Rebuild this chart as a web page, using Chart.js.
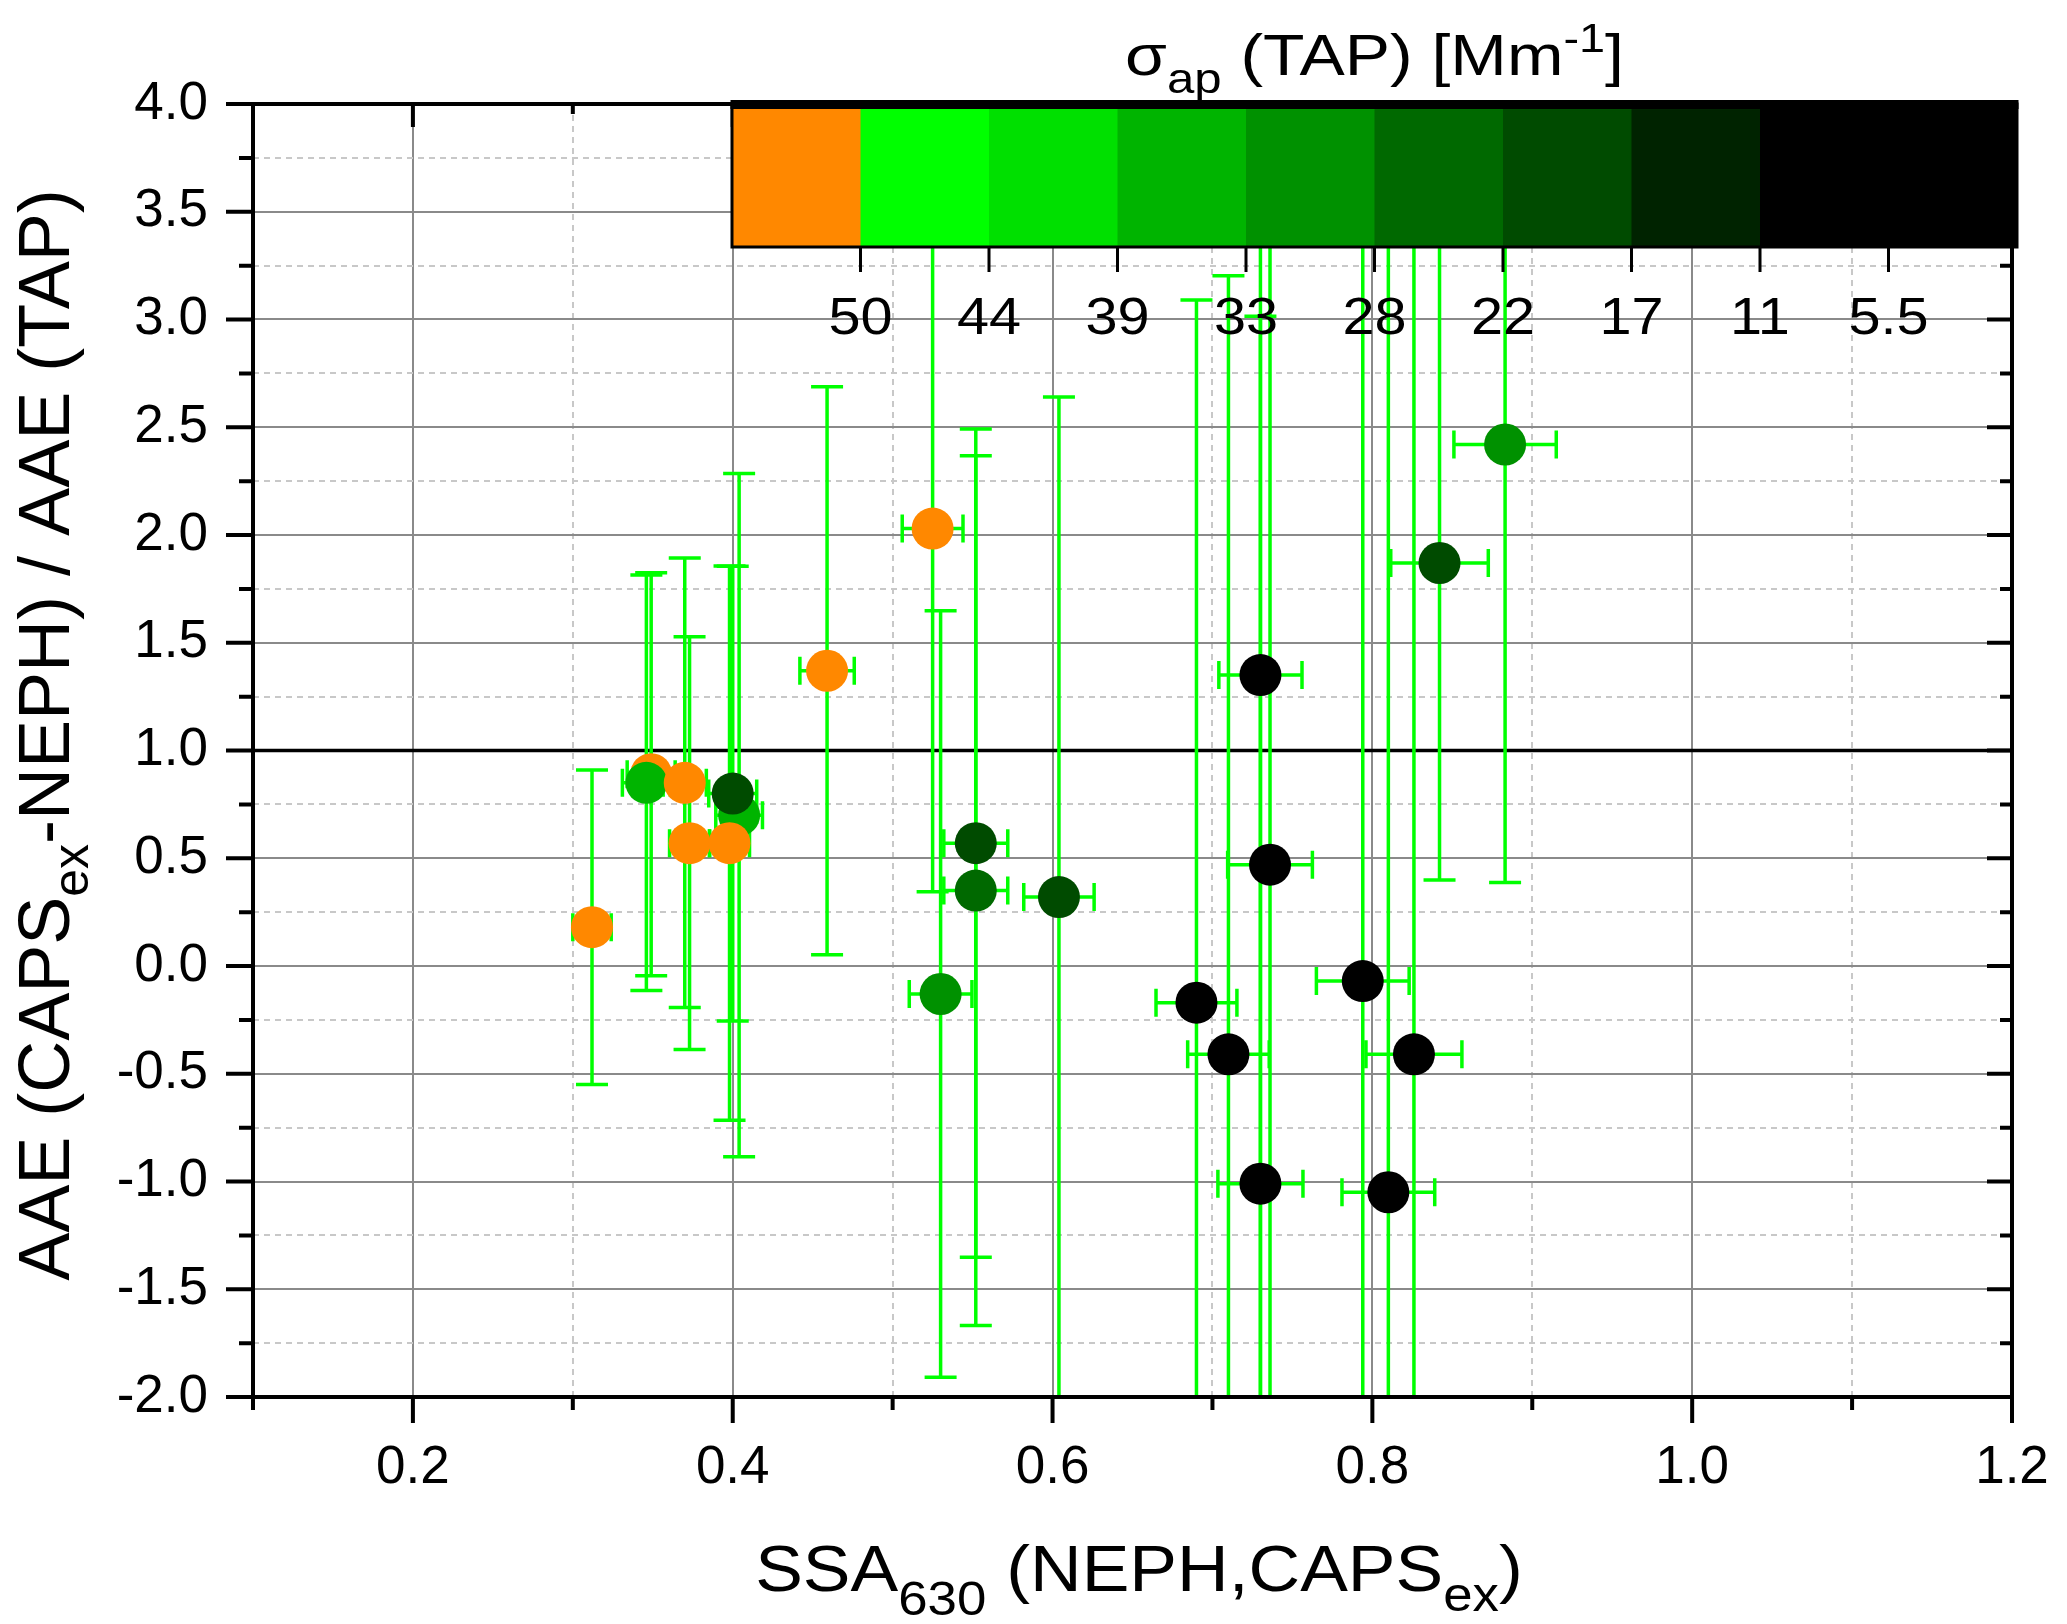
<!DOCTYPE html>
<html>
<head>
<meta charset="utf-8">
<script src="https://cdn.jsdelivr.net/npm/chart.js@4.4.1/dist/chart.umd.min.js"></script>
<style>
  html, body { margin: 0; padding: 0; background: #fff; }
  canvas { display: block; }
</style>
</head>
<body>
<canvas id="chart" width="2067" height="1624" style="width:2067px;height:1624px"></canvas>
<script>
const FONT = "'Liberation Sans', Arial, sans-serif";

// SSA630 (x), AAE ratio (y), their errors and the TAP absorption of each point
const ssa = [0.312, 0.349, 0.346, 0.370, 0.373, 0.404, 0.398, 0.400, 0.459, 0.525, 0.530, 0.552,
  0.552, 0.604, 0.690, 0.710, 0.730, 0.736, 0.730, 0.794, 0.810, 0.826, 0.842, 0.883];
const aae = [0.18, 0.89, 0.85, 0.85, 0.57, 0.70, 0.57, 0.80, 1.37, 2.03, -0.13, 0.35,
  0.57, 0.32, -0.17, -0.41, 1.35, 0.47, -1.01, -0.07, -1.05, -0.41, 1.87, 2.42];
const ssaErr = [0.012, 0.015, 0.015, 0.0135, 0.0125, 0.0146, 0.0125, 0.015, 0.017, 0.019, 0.0196, 0.02,
  0.02, 0.022, 0.0253, 0.0255, 0.026, 0.0265, 0.0266, 0.029, 0.029, 0.030, 0.0305, 0.032];
const aaeErr = [0.73, 0.935, 0.964, 1.043, 0.958, 1.585, 1.286, 1.055, 1.318, 1.686, 1.778, 2.018,
  1.922, 2.32, 3.261, 3.613, 4.0, 4.2, 4.025, 4.6, 5.4, 4.9, 1.471, 2.032];
const sigmaAp = [55, 55, 36, 55, 55, 36, 55, 19, 55, 55, 30, 25,
  19, 19, 8, 8, 8, 8, 8, 8, 8, 8, 19, 30];

// colour scale of the legend bar
const sigmaEdges = [50, 44, 39, 33, 28, 22, 17, 11, 5.5];
const sigmaColors = ["#ff8800", "#00ff00", "#00e000", "#00b400", "#009100", "#006900", "#004b00", "#002300", "#000000", "#000000"];

// reference line AAE ratio = 1
const refX = [0.1, 1.2];
const refY = [1, 1];

const colorFor = (s) => {
  const i = sigmaEdges.findIndex((e) => s > e);
  return sigmaColors[i < 0 ? sigmaColors.length - 1 : i];
};

const points = ssa.map((x, i) => ({ x, y: aae[i] }));
const pointColors = sigmaAp.map(colorFor);
const refLine = refX.map((x, i) => ({ x, y: refY[i] }));

const isMajorX = (v) => Math.round(v * 10) % 2 === 0;
const isMajorY = (v) => Math.round(v * 4) % 2 === 0;

// text with sub/superscripts, sx stretches it sideways
const drawRich = (ctx, parts, x, y, sx = 1) => {
  let total = 0;
  parts.forEach((p) => {
    ctx.font = `${p.size}px ${FONT}`;
    p.w = ctx.measureText(p.text).width;
    total += p.w;
  });
  ctx.save();
  ctx.translate(x, y);
  ctx.scale(sx, 1);
  ctx.fillStyle = "#000";
  ctx.textAlign = "left";
  ctx.textBaseline = "alphabetic";
  let cx = -total / 2;
  parts.forEach((p) => {
    ctx.font = `${p.size}px ${FONT}`;
    ctx.fillText(p.text, cx, p.dy || 0);
    cx += p.w;
  });
  ctx.restore();
};

const errorBars = {
  id: "errorBars",
  beforeDatasetDraw(chart, args) {
    if (args.index !== 0) return;
    const { ctx, chartArea: ca } = chart;
    const { x, y } = chart.scales;
    ctx.save();
    ctx.beginPath();
    ctx.rect(ca.left, ca.top, ca.width, ca.height);
    ctx.clip();
    ctx.strokeStyle = "#00ff00";
    ctx.lineWidth = 3.5;
    ssa.forEach((sx, i) => {
      const px = x.getPixelForValue(sx);
      const py = y.getPixelForValue(aae[i]);
      const top = y.getPixelForValue(aae[i] + aaeErr[i]);
      const bot = y.getPixelForValue(aae[i] - aaeErr[i]);
      const l = x.getPixelForValue(sx - ssaErr[i]);
      const r = x.getPixelForValue(sx + ssaErr[i]);
      ctx.beginPath();
      ctx.moveTo(px, top); ctx.lineTo(px, bot);
      ctx.moveTo(px - 16, top); ctx.lineTo(px + 16, top);
      ctx.moveTo(px - 16, bot); ctx.lineTo(px + 16, bot);
      ctx.moveTo(l, py); ctx.lineTo(r, py);
      ctx.moveTo(l, py - 14); ctx.lineTo(l, py + 14);
      ctx.moveTo(r, py - 14); ctx.lineTo(r, py + 14);
      ctx.stroke();
    });
    ctx.restore();
  },
};

const decorations = {
  id: "decorations",
  afterDraw(chart) {
    const { ctx, chartArea: ca } = chart;
    const { x, y } = chart.scales;
    ctx.save();

    // frame + ticks (outside on left/bottom, inside on top/right)
    ctx.strokeStyle = "#000";
    ctx.lineWidth = 4;
    ctx.strokeRect(ca.left, ca.top, ca.width, ca.height);
    ctx.beginPath();
    y.ticks.forEach((t) => {
      const py = y.getPixelForValue(t.value);
      const m = isMajorY(t.value);
      ctx.moveTo(ca.left, py); ctx.lineTo(ca.left - (m ? 27 : 14), py);
      ctx.moveTo(ca.right, py); ctx.lineTo(ca.right - (m ? 25 : 12), py);
    });
    x.ticks.forEach((t) => {
      const px = x.getPixelForValue(t.value);
      const m = isMajorX(t.value);
      ctx.moveTo(px, ca.bottom); ctx.lineTo(px, ca.bottom + (m ? 26 : 13));
      ctx.moveTo(px, ca.top); ctx.lineTo(px, ca.top + (m ? 23 : 10));
    });
    ctx.stroke();

    // colour bar legend
    const bx0 = ca.left + 479, bx1 = ca.right + 5;
    const by0 = ca.top, by1 = ca.top + 143;
    const w = (bx1 - bx0) / sigmaColors.length;
    sigmaColors.forEach((c, i) => {
      ctx.fillStyle = c;
      ctx.fillRect(bx0 + i * w, by0, w + 0.5, by1 - by0);
    });
    ctx.lineWidth = 3;
    ctx.strokeStyle = "#000";
    ctx.strokeRect(bx0, by0, bx1 - bx0, by1 - by0);
    ctx.fillStyle = "#000";
    ctx.fillRect(bx0 - 1.5, by0 - 4, bx1 - bx0 + 3, 9);
    ctx.beginPath();
    sigmaEdges.forEach((e, i) => {
      const tx = bx0 + (i + 1) * w;
      ctx.moveTo(tx, by1); ctx.lineTo(tx, by1 + 25);
    });
    ctx.stroke();
    sigmaEdges.forEach((e, i) => {
      drawRich(ctx, [{ text: String(e), size: 51 }], bx0 + (i + 1) * w, by1 + 87, 1.13);
    });
    drawRich(ctx, [
      { text: "σ", size: 58 },
      { text: "ap", size: 42, dy: 18 },
      { text: " (TAP) [Mm", size: 58 },
      { text: "-1", size: 40, dy: -23 },
      { text: "]", size: 58 },
    ], (bx0 + bx1) / 2, ca.top - 29, 1.17);

    // axis titles
    drawRich(ctx, [
      { text: "SSA", size: 65 },
      { text: "630", size: 48, dy: 24 },
      { text: " (NEPH,CAPS", size: 65 },
      { text: "ex", size: 48, dy: 20 },
      { text: ")", size: 65 },
    ], ca.left + 886, ca.bottom + 194, 1.1);

    ctx.translate(ca.left - 184, ca.top + 631);
    ctx.rotate(-Math.PI / 2);
    drawRich(ctx, [
      { text: "AAE (CAPS", size: 72 },
      { text: "ex", size: 50, dy: 19 },
      { text: "-NEPH) / AAE (TAP)", size: 72 },
    ], 0, 0);
    ctx.restore();
  },
};

new Chart(document.getElementById("chart"), {
  type: "scatter",
  data: {
    datasets: [
      {
        data: points,
        pointRadius: 21,
        pointHoverRadius: 21,
        pointBackgroundColor: pointColors,
        pointBorderWidth: 0,
        order: 0,
      },
      {
        type: "line",
        data: refLine,
        borderColor: "#000",
        borderWidth: 3.5,
        pointRadius: 0,
        fill: false,
        order: 1,
      },
    ],
  },
  options: {
    responsive: false,
    devicePixelRatio: 1,
    animation: false,
    events: [],
    layout: { padding: { top: 104, right: 55, bottom: 0, left: 0 } },
    plugins: {
      legend: { display: false },
      tooltip: { enabled: false },
    },
    scales: {
      x: {
        type: "linear",
        min: 0.1,
        max: 1.2,
        afterFit: (s) => {
          s.height = 227;
          s.paddingLeft = 0;
          s.paddingRight = 0;
        },
        ticks: {
          stepSize: 0.1,
          autoSkip: false,
          maxRotation: 0,
          padding: 40,
          color: "#000",
          font: { family: FONT, size: 53 },
          callback: (v) => (isMajorX(v) ? v.toFixed(1) : ""),
        },
        grid: {
          drawTicks: false,
          color: (c) => (c.tick && isMajorX(c.tick.value) ? "#8a8a8a" : "#c8c8c8"),
          lineWidth: 2,
        },
        border: {
          display: false,
          dash: (c) => (c.tick && isMajorX(c.tick.value) ? [] : [6, 5]),
        },
      },
      y: {
        type: "linear",
        min: -2,
        max: 4,
        afterFit: (s) => { s.width = 253; },
        ticks: {
          stepSize: 0.25,
          autoSkip: false,
          padding: 45,
          color: "#000",
          font: { family: FONT, size: 53 },
          callback: (v) => (isMajorY(v) ? (Math.abs(v) < 1e-9 ? "0.0" : v.toFixed(1)) : ""),
        },
        grid: {
          drawTicks: false,
          color: (c) => (c.tick && isMajorY(c.tick.value) ? "#8a8a8a" : "#c8c8c8"),
          lineWidth: 2,
        },
        border: {
          display: false,
          dash: (c) => (c.tick && isMajorY(c.tick.value) ? [] : [6, 5]),
        },
      },
    },
  },
  plugins: [errorBars, decorations],
});
</script>
</body>
</html>
